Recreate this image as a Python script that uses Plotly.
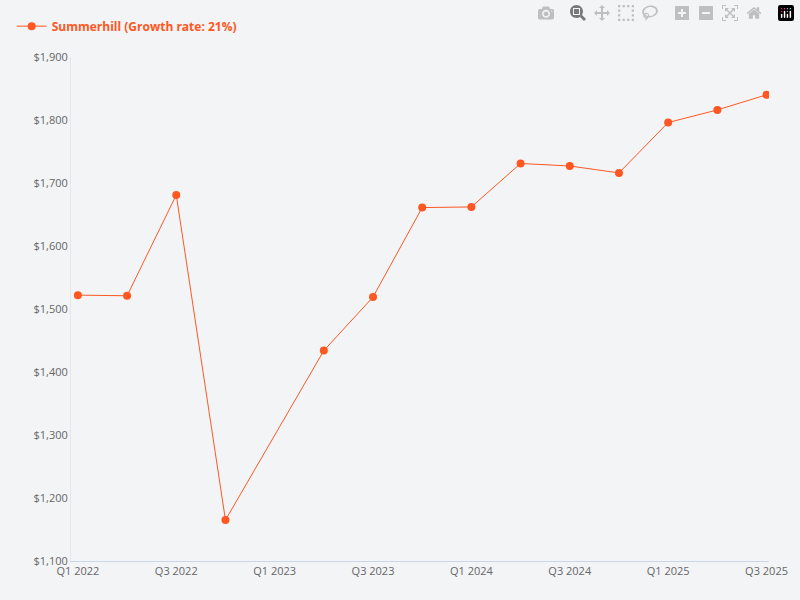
import plotly.graph_objects as go

quarters = ["Q1 2022", "Q2 2022", "Q3 2022", "Q4 2022", "Q1 2023", "Q2 2023", "Q3 2023", "Q4 2023",
            "Q1 2024", "Q2 2024", "Q3 2024", "Q4 2024", "Q1 2025", "Q2 2025", "Q3 2025"]
prices = [1522, 1521, 1681, 1165, None, 1434, 1519, 1661,
          1662, 1731, 1727, 1716, 1796, 1816, 1840]
tick_labels = ["Q1 2022", "Q3 2022", "Q1 2023", "Q3 2023", "Q1 2024", "Q3 2024", "Q1 2025", "Q3 2025"]

orange = "#ff5722"
bg = "#f3f4f6"

fig = go.Figure()
fig.add_trace(go.Scatter(x=quarters, y=prices, mode="lines+markers", connectgaps=True,
                         name="<b>Summerhill (Growth rate: 21%)</b>",
                         line=dict(color=orange, width=1),
                         marker=dict(color=orange, size=8)))

fig.update_layout(
    width=800, height=600,
    paper_bgcolor=bg, plot_bgcolor=bg,
    font=dict(family="Open Sans", size=11, color="#666"),
    margin=dict(l=60, r=20, t=50, b=39),
    showlegend=True,
    legend=dict(x=-0.085, y=1.09, xanchor="left", yanchor="top", orientation="h",
                font=dict(color=orange, size=12, family="Open Sans"), itemwidth=30),
    xaxis=dict(tickvals=tick_labels, showgrid=False, showline=True, linecolor="#ccd6eb",
               ticks="", range=[-0.14, 14.05]),
    yaxis=dict(range=[1100, 1900], dtick=100, tickprefix="$", tickformat=",",
               showgrid=False, showline=True, linecolor="#e6e6e6", ticks=""),
)
fig.write_html("out.html",
               post_script="document.body.style.margin='0';document.body.style.background='#f3f4f6';")
